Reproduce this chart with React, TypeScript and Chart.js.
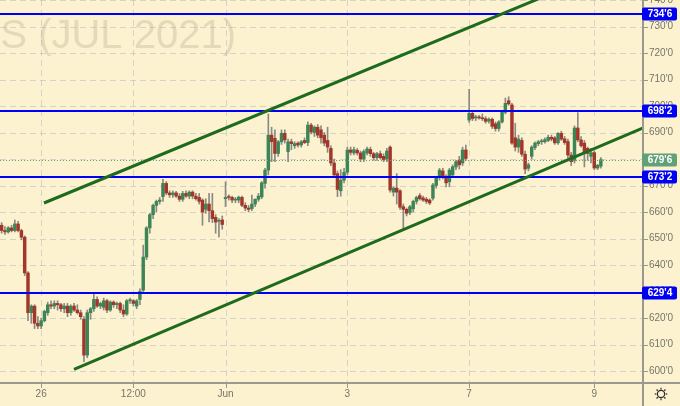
import React, { useEffect, useRef } from 'react';
import { Chart, registerables } from 'chart.js';

Chart.register(...registerables);

// ---- data ----
const openV = [
  655, 653, 652.5, 654, 653, 655.5, 653, 650.5, 637, 622,
  624.5, 618, 617, 619, 622, 625, 624.5, 625.5, 625, 623.5,
  624.5, 622, 624.5, 623, 622, 619.5, 606, 622, 623.5, 627,
  624.5, 624, 626.5, 623, 626, 625, 625.5, 623, 621.5, 626.5,
  626.5, 624.5, 627, 630.5, 643, 654, 659, 662.5, 664, 665.8,
  670.8, 667.2, 666.5, 667.2, 666, 664.8, 667, 666, 667.5, 666,
  665.5, 664.5, 661, 663, 660.5, 658, 656.5, 657, 665, 665.8,
  665.5, 664.5, 664.5, 665.5, 662.5, 661.5, 661.3, 663, 664.8, 665.7,
  670.8, 675.8, 689, 687.8, 682.1, 686.5, 689.7, 682.8, 686.5, 685,
  686, 685.3, 687, 686.2, 692.8, 690, 692, 691, 689, 687,
  684, 678.5, 674.5, 668, 672, 675, 683.4, 682.3, 683.3, 682.3,
  680, 682.3, 683.6, 682, 680.5, 682, 681, 680, 684.5, 667.5,
  669, 668, 662, 661, 659.8, 661.2, 664, 666.2, 665.3, 664.8,
  664.5, 665.2, 670, 673, 675.5, 673.5, 671.4, 674, 677, 679.6,
  678.5, 683.4, 694.7, 697.2, 695.5, 695.8, 695.5, 695.2, 694.3, 695,
  693.3, 691.5, 694, 697.6, 702, 700.4, 688, 684.5, 687, 681.8,
  676.5, 681, 684.3, 685.8, 686.5, 686.5, 687, 688.2, 688, 686.1,
  689.7, 687.6, 686.6, 681.5, 679.5, 691.7, 687.2, 686, 684, 681,
  682.4, 676.6, 677.3,
];
const highV = [
  656, 654.5, 654.5, 655, 657, 656.5, 653.5, 651, 637.5, 625,
  625, 620.5, 620, 623, 626, 626.5, 626.5, 626.5, 625.5, 625.5,
  625.5, 625, 625.5, 625, 623, 620.5, 623, 624, 629, 628,
  626, 627.5, 627, 626.5, 626.5, 626, 626, 625, 627, 627.5,
  627, 627, 631, 647.5, 654.5, 659.5, 663, 664.5, 665.5, 672.3,
  671.5, 668, 668, 667.8, 667, 667.8, 668, 668, 668, 667,
  667, 665, 665, 667, 667, 659, 657.5, 658.5, 671.4, 666.5,
  666, 665.5, 666, 666, 663.5, 662.5, 666.4, 665, 667, 671.5,
  676.5, 697, 692, 691, 687, 691, 691, 687.5, 687.5, 686.5,
  686.5, 687, 688, 694, 693.5, 692.5, 693, 692.5, 690, 692,
  685, 680, 675.5, 676, 676.5, 684.5, 684.5, 684.5, 684, 683,
  683.5, 684.5, 684.5, 682.5, 682.5, 683, 682, 684, 685, 669.5,
  674.5, 668.5, 663, 661.5, 662.5, 664.5, 666, 667, 666, 665.5,
  665, 670.8, 673.5, 676.5, 676.5, 674, 676.5, 677.8, 679.5, 681,
  684.5, 685.3, 706.3, 697.8, 696.5, 696.5, 697, 696, 695.5, 695.5,
  694, 694.5, 698, 703, 703.5, 701, 693.5, 689, 688, 683,
  678.5, 685, 686.5, 687, 687.5, 688, 689, 689, 688.5, 690,
  690.5, 688.5, 687.5, 682.5, 692.5, 697.5, 688.5, 687, 684.5, 684,
  683, 678, 680.5,
];
const lowV = [
  652, 651.5, 652, 652.5, 652.5, 652.5, 649.5, 636, 619, 618,
  616, 616, 616, 618.5, 621, 623.5, 623.5, 623, 622.5, 622,
  620.5, 621, 622.5, 621.5, 619.5, 603.5, 605, 619.5, 622.5, 624,
  623.5, 623, 622, 622.5, 624, 623.5, 622, 620.5, 621, 625.5,
  624.5, 623.5, 625, 630, 642, 652, 657.5, 660, 663, 664,
  666.5, 665.5, 665.5, 665.5, 664, 664, 665.5, 665, 665, 664.5,
  663, 655, 659.5, 656.3, 656, 652, 650.6, 653.5, 662, 664.5,
  663.5, 663.5, 663.5, 662, 660.5, 660, 660.5, 662, 664, 665,
  669, 674, 679, 679, 681, 685.5, 686, 679, 683.5, 684,
  684.5, 684.5, 685.8, 685, 689.5, 688.5, 688, 686, 685, 682.5,
  677.5, 673.5, 665.8, 666, 671, 674, 681.5, 681.5, 681.5, 679,
  679, 681.5, 681, 679.5, 679.5, 680, 679, 679, 667.5, 666,
  663, 661, 653.2, 658.5, 659, 660, 663, 664.5, 664, 663.2,
  662.8, 664.5, 669, 672, 672.5, 669.5, 669.5, 673.5, 676, 676.2,
  677.5, 679.5, 693.8, 694.5, 694.5, 695, 694.5, 693.5, 693.5, 691.5,
  690.5, 690.5, 693.5, 697, 700.3, 685.5, 683, 682.5, 681, 674.5,
  675.5, 680, 683.5, 685, 685.5, 686, 686.5, 686.8, 685.5, 685.5,
  687, 685.5, 680, 677.5, 678.5, 686.5, 684.5, 677, 679.5, 678.5,
  676, 676, 676.5,
];
const closeV = [
  653, 652.5, 654, 653, 655.5, 653, 650.5, 637, 622, 624.5,
  618, 617, 619, 622.5, 625, 624.5, 625.5, 625, 623.5, 624.5,
  622, 624.5, 623, 622, 620.5, 606, 622, 623.5, 627, 624.5,
  625.5, 626.5, 623, 626, 625, 625.5, 623, 621.5, 626.5, 626.8,
  625.5, 626.5, 630, 643, 654, 659, 662.5, 664, 664.5, 670.8,
  667.2, 666.5, 667.2, 666, 664.8, 667, 666, 667.5, 666, 665,
  664, 660, 663, 660.5, 657.5, 656.2, 656.8, 655.3, 665.5, 665.5,
  664.5, 664.8, 665.6, 662.5, 661.5, 661, 663, 664.8, 666, 671,
  675.8, 689, 686.5, 682.1, 686.5, 689.7, 687.2, 686.5, 685.8, 685.8,
  685.3, 686.5, 686.2, 692.8, 690.2, 692, 689, 688, 686, 684.5,
  678.5, 674, 668.5, 672, 675, 683.4, 682.5, 683.5, 682.3, 680,
  682.8, 683.8, 682, 680.5, 682, 680.5, 679.8, 683, 668.3, 669,
  667.5, 661.8, 661, 659.5, 662, 664, 665.5, 665, 664.5, 664,
  663.4, 670.2, 673, 675.8, 673, 671, 675.8, 677.1, 679, 677.8,
  683.4, 680.2, 697.2, 695.3, 695.8, 695.5, 695.2, 694.2, 695, 692.3,
  691.5, 694, 697.6, 701, 700.8, 686, 684.5, 687.5, 681.8, 676.2,
  677.8, 684.5, 686, 686.5, 686.8, 687.3, 688.2, 687.5, 686.1, 689.7,
  687.5, 686.2, 681.5, 679, 691.7, 687.2, 685, 682.3, 682.1, 682.4,
  676.6, 677.6, 679.75,
];

const slotCount = 195;
const tickIdx = [12, 40, 68, 105, 142, 180];
const tickText = ['26', '12:00', 'Jun', '3', '7', '9'];
const yTickValues = [600, 610, 620, 630, 640, 650, 660, 670, 680, 690, 700, 710, 720, 730, 740];
const yMin = 595.85;
const yMax = 740;
const levelValues = [734.75, 698.25, 673.25, 629.5];
const lastPrice = 679.75;
const upperIdx = [12.86, 169.6];
const upperPrice = [663.4, 743.8];
const lowerIdx = [21.98, 200];
const lowerPrice = [600.64, 694.5];
const watermark = 'CORN FUTURES (JUL 2021)';

// ---- styles ----
const BG = '#fdf2cf';
const GRID = 'rgba(170,180,195,0.5)';
const AXIS = '#9a9a8c';
const TEXT = '#74746a';
const UP = '#3c8556';
const DOWN = '#a3362a';
const WICK = '#8a8a84';
const LEVEL = '#0000f5';
const CHANNEL = '#1e6b1e';
const PRICE = '#62a078';
const FONT = '"Liberation Sans", Arial, sans-serif';

const fmt = (v: number) => {
  const whole = Math.floor(v + 1e-9);
  const eighths = Math.round((v - whole) * 8);
  return `${whole}'${eighths}`;
};

const roundBox = (ctx: CanvasRenderingContext2D, x: number, y: number, w: number, h: number, r: number) => {
  ctx.beginPath();
  ctx.moveTo(x + r, y);
  ctx.lineTo(x + w - r, y);
  ctx.quadraticCurveTo(x + w, y, x + w, y + r);
  ctx.lineTo(x + w, y + h - r);
  ctx.quadraticCurveTo(x + w, y + h, x + w - r, y + h);
  ctx.lineTo(x + r, y + h);
  ctx.quadraticCurveTo(x, y + h, x, y + h - r);
  ctx.lineTo(x, y + r);
  ctx.quadraticCurveTo(x, y, x + r, y);
  ctx.closePath();
};

const overlay = {
  id: 'overlay',
  beforeDraw(chart: any) {
    const { ctx, width, height } = chart;
    ctx.save();
    ctx.fillStyle = BG;
    ctx.fillRect(0, 0, width, height);
    ctx.font = `40px ${FONT}`;
    ctx.fillStyle = 'rgba(150,140,115,0.24)';
    ctx.textAlign = 'right';
    ctx.textBaseline = 'alphabetic';
    ctx.fillText(watermark, 236, 48);
    ctx.restore();
  },
  beforeDatasetsDraw(chart: any) {
    const { ctx, chartArea: a, scales } = chart;
    const x = scales.x;
    const y = scales.y;
    ctx.save();
    ctx.strokeStyle = GRID;
    ctx.lineWidth = 1;
    ctx.setLineDash([6, 4]);
    yTickValues.forEach((v) => {
      const py = Math.round(y.getPixelForValue(v)) + 0.5;
      ctx.beginPath();
      ctx.moveTo(a.left, py);
      ctx.lineTo(a.right, py);
      ctx.stroke();
    });
    tickIdx.forEach((i) => {
      const px = Math.round(x.getPixelForValue(i)) + 0.5;
      ctx.beginPath();
      ctx.moveTo(px, a.top);
      ctx.lineTo(px, a.bottom);
      ctx.stroke();
    });
    ctx.restore();
  },
  afterDatasetsDraw(chart: any) {
    const { ctx, chartArea: a, scales } = chart;
    const x = scales.x;
    const y = scales.y;
    ctx.save();
    ctx.beginPath();
    ctx.rect(a.left, a.top, a.right - a.left, a.bottom - a.top);
    ctx.clip();
    const py = Math.round(y.getPixelForValue(lastPrice)) + 0.5;
    ctx.strokeStyle = PRICE;
    ctx.lineWidth = 1;
    ctx.setLineDash([1, 2]);
    ctx.beginPath();
    ctx.moveTo(a.left, py);
    ctx.lineTo(a.right, py);
    ctx.stroke();
    ctx.setLineDash([]);
    ctx.strokeStyle = LEVEL;
    ctx.lineWidth = 2;
    levelValues.forEach((v) => {
      const ly = Math.round(y.getPixelForValue(v));
      ctx.beginPath();
      ctx.moveTo(a.left, ly);
      ctx.lineTo(a.right, ly);
      ctx.stroke();
    });
    ctx.strokeStyle = CHANNEL;
    ctx.lineWidth = 3;
    ctx.lineCap = 'butt';
    [[upperIdx, upperPrice], [lowerIdx, lowerPrice]].forEach(([ix, pv]) => {
      ctx.beginPath();
      ctx.moveTo(x.getPixelForValue(ix[0]), y.getPixelForValue(pv[0]));
      ctx.lineTo(x.getPixelForValue(ix[1]), y.getPixelForValue(pv[1]));
      ctx.stroke();
    });
    ctx.restore();
  },
  afterDraw(chart: any) {
    const { ctx, chartArea: a, scales, width, height } = chart;
    const x = scales.x;
    const y = scales.y;
    ctx.save();
    ctx.strokeStyle = AXIS;
    ctx.lineWidth = 2;
    ctx.beginPath();
    ctx.moveTo(a.right + 1, 0);
    ctx.lineTo(a.right + 1, height);
    ctx.moveTo(0, a.bottom + 1);
    ctx.lineTo(width, a.bottom + 1);
    ctx.stroke();
    ctx.lineWidth = 1;
    yTickValues.forEach((v) => {
      const ty = Math.round(y.getPixelForValue(v)) + 0.5;
      ctx.beginPath();
      ctx.moveTo(a.right + 2, ty);
      ctx.lineTo(a.right + 6, ty);
      ctx.stroke();
    });
    tickIdx.forEach((i) => {
      const tx = Math.round(x.getPixelForValue(i)) + 0.5;
      ctx.beginPath();
      ctx.moveTo(tx, a.bottom + 2);
      ctx.lineTo(tx, a.bottom + 6);
      ctx.stroke();
    });
    const box = (v: number, color: string) => {
      const by = y.getPixelForValue(v);
      ctx.fillStyle = color;
      roundBox(ctx, a.right, Math.round(by) - 6.5, 35, 13, 2);
      ctx.fill();
      ctx.fillStyle = '#ffffff';
      ctx.font = `bold 10px ${FONT}`;
      ctx.textAlign = 'center';
      ctx.textBaseline = 'middle';
      ctx.fillText(fmt(v), a.right + 18, Math.round(by) + 0.5);
    };
    box(lastPrice, PRICE);
    levelValues.forEach((v) => box(v, LEVEL));
    const cx = 661;
    const cy = 394;
    ctx.strokeStyle = '#2a2a2a';
    ctx.lineWidth = 1.2;
    ctx.beginPath();
    ctx.arc(cx, cy, 3.6, 0, Math.PI * 2);
    ctx.stroke();
    for (let k = 0; k < 8; k++) {
      const ang = (k * Math.PI) / 4;
      ctx.beginPath();
      ctx.moveTo(cx + Math.cos(ang) * 4.6, cy + Math.sin(ang) * 4.6);
      ctx.lineTo(cx + Math.cos(ang) * 6.3, cy + Math.sin(ang) * 6.3);
      ctx.stroke();
    }
    ctx.restore();
  },
};

export default function App() {
  const canvasRef = useRef<HTMLCanvasElement | null>(null);

  useEffect(() => {
    document.body.style.margin = '0';
    const canvas = canvasRef.current;
    if (!canvas) return;
    const labels = Array.from({ length: slotCount }, (_, i) => {
      const k = tickIdx.indexOf(i);
      return k >= 0 ? tickText[k] : '';
    });
    const wickData = lowV.map((l, i) => [l, highV[i]]);
    const bodyData = openV.map((o, i) => [o, closeV[i]]);
    const bodyColors = openV.map((o, i) => (closeV[i] >= o ? UP : DOWN));

    const chart = new Chart(canvas, {
      type: 'bar',
      data: {
        labels,
        datasets: [
          {
            label: 'wick',
            data: wickData as any,
            backgroundColor: WICK,
            barThickness: 1,
            grouped: false,
            order: 2,
          } as any,
          {
            label: 'body',
            data: bodyData as any,
            backgroundColor: bodyColors,
            barThickness: 2.8,
            minBarLength: 1,
            grouped: false,
            order: 1,
          } as any,
        ],
      },
      plugins: [overlay],
      options: {
        responsive: false,
        animation: false,
        devicePixelRatio: 1,
        events: [],
        layout: { padding: 0 },
        plugins: {
          legend: { display: false },
          tooltip: { enabled: false },
        },
        scales: {
          x: {
            type: 'category',
            offset: true,
            grid: { display: false, drawTicks: true, tickLength: 4 },
            border: { display: false },
            ticks: {
              autoSkip: false,
              maxRotation: 0,
              minRotation: 0,
              padding: 2,
              color: TEXT,
              font: { family: FONT, size: 10 },
            },
            afterBuildTicks: (s: any) => {
              s.ticks = tickIdx.map((v) => ({ value: v }));
            },
            afterFit: (s: any) => {
              s.height = 24;
              s.paddingLeft = 0;
              s.paddingRight = 0;
            },
          },
          y: {
            type: 'linear',
            position: 'right',
            min: yMin,
            max: yMax,
            grid: { display: false, drawTicks: true, tickLength: 4 },
            border: { display: false },
            ticks: {
              padding: 3,
              color: TEXT,
              font: { family: FONT, size: 10 },
              callback: (v: any) => fmt(Number(v)),
            },
            afterBuildTicks: (s: any) => {
              s.ticks = yTickValues.map((v) => ({ value: v }));
            },
            afterFit: (s: any) => {
              s.width = 38;
              s.paddingTop = 0;
              s.paddingBottom = 0;
            },
          },
        },
      } as any,
    });
    return () => chart.destroy();
  }, []);

  return (
    <div style={{ width: 680, height: 406 }}>
      <canvas ref={canvasRef} width={680} height={406} style={{ display: 'block' }} />
    </div>
  );
}
